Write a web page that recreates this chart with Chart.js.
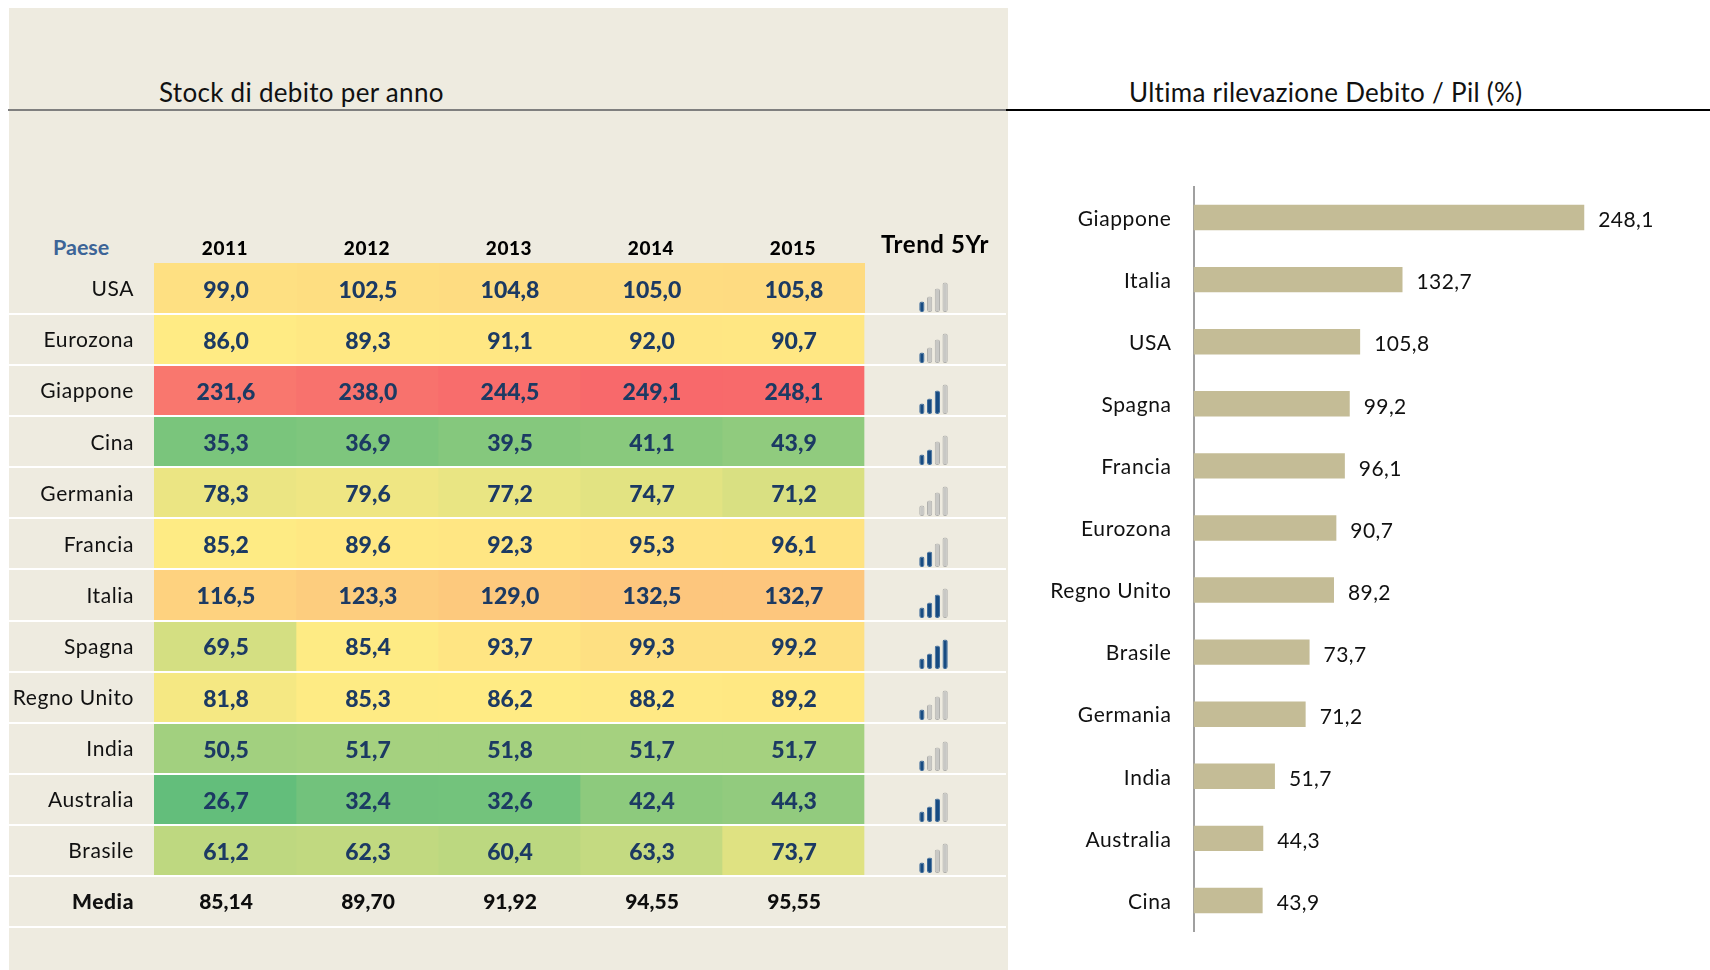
<!DOCTYPE html>
<html lang="it">
<head>
  <meta charset="UTF-8" />
  <title>Debito / Pil</title>
  <script src="https://cdn.jsdelivr.net/npm/chart.js"></script>
  <style>
    html, body { margin: 0; background: #fff; overflow: hidden; }
    body { width: 1710px; height: 970px; position: relative; font-family: Lato, sans-serif; }
    #panel { position: absolute; left: 9px; top: 8px; width: 999px; height: 962px; background: #eeebe0; }
    canvas { position: absolute; }
    #lineLeft { position: absolute; left: 8px; top: 109px; width: 1000px; height: 2px; background: #7f7f7f; }
    #lineRight { position: absolute; left: 1006px; top: 109px; width: 704px; height: 2px; background: #000; }
    .title { position: absolute; top: 76px; font-size: 26px; line-height: 32px; color: #111; white-space: nowrap; letter-spacing: 0.3px; }
    #paese { position: absolute; left: 53px; top: 234px; font-size: 21.5px; line-height: 26px; font-weight: bold; color: #3c6497; }
  </style>
</head>
<body>
  <div id="panel"></div>
  <div id="lineLeft"></div>
  <div id="lineRight"></div>
  <div class="title" style="left:159px">Stock di debito per anno</div>
  <div class="title" style="left:1129px">Ultima rilevazione Debito / Pil (%)</div>
  <div id="paese">Paese</div>
  <canvas id="tableChart" width="999" height="970" style="left:9px;top:0"></canvas>
  <canvas id="barChart" width="702" height="970" style="left:1008px;top:0"></canvas>

  <script>
    const countries = ["USA", "Eurozona", "Giappone", "Cina", "Germania", "Francia", "Italia", "Spagna", "Regno Unito", "India", "Australia", "Brasile"];
    const columnLabels = ["2011", "2012", "2013", "2014", "2015", "Trend 5Yr"];

    const stock2011 = [99.0, 86.0, 231.6, 35.3, 78.3, 85.2, 116.5, 69.5, 81.8, 50.5, 26.7, 61.2];
    const stock2012 = [102.5, 89.3, 238.0, 36.9, 79.6, 89.6, 123.3, 85.4, 85.3, 51.7, 32.4, 62.3];
    const stock2013 = [104.8, 91.1, 244.5, 39.5, 77.2, 92.3, 129.0, 93.7, 86.2, 51.8, 32.6, 60.4];
    const stock2014 = [105.0, 92.0, 249.1, 41.1, 74.7, 95.3, 132.5, 99.3, 88.2, 51.7, 42.4, 63.3];
    const stock2015 = [105.8, 90.7, 248.1, 43.9, 71.2, 96.1, 132.7, 99.2, 89.2, 51.7, 44.3, 73.7];
    const mediaValues = [85.14, 89.70, 91.92, 94.55, 95.55];

    // how many of the 4 trend bars are lit, per country
    const trendLevels = [1, 1, 3, 2, 0, 2, 3, 4, 1, 1, 3, 2];
    const trendBarHeights = [10.5, 15.5, 23.5, 29.5];

    const rankedCountries = ["Giappone", "Italia", "USA", "Spagna", "Francia", "Eurozona", "Regno Unito", "Brasile", "Germania", "India", "Australia", "Cina"];
    const rankedValues = [248.1, 132.7, 105.8, 99.2, 96.1, 90.7, 89.2, 73.7, 71.2, 51.7, 44.3, 43.9];

    const stockColumns = [stock2011, stock2012, stock2013, stock2014, stock2015];
    const tableRows = countries.concat(["Media"]);

    Chart.defaults.font.family = "Lato, sans-serif";
    Chart.defaults.animation = false;
    Chart.defaults.responsive = false;
    Chart.defaults.plugins.legend.display = false;
    Chart.defaults.plugins.tooltip.enabled = false;

    // same 3 colour scale as the spreadsheet: min green, median yellow, max red
    const allValues = stockColumns.flat().sort((a, b) => a - b);
    const minValue = allValues[0];
    const maxValue = allValues[allValues.length - 1];
    const midValue = (allValues[29] + allValues[30]) / 2;
    const green = [99, 190, 123], yellow = [255, 235, 132], red = [248, 105, 107];

    function mix(a, b, t) {
      return `rgb(${a.map((c, i) => Math.round(c + (b[i] - c) * t)).join(",")})`;
    }
    function heatColor(v) {
      if (v <= midValue) return mix(green, yellow, (v - minValue) / (midValue - minValue));
      return mix(yellow, red, (v - midValue) / (maxValue - midValue));
    }
    function comma(v, digits) {
      return v.toFixed(digits).replace(".", ",");
    }

    // the original text is a bit more open than Lato
    const spacedText = {
      id: "spacedText",
      beforeDraw(chart) { chart.ctx.letterSpacing = "0.6px"; }
    };

    const cellText = {
      id: "cellText",
      afterDatasetsDraw(chart) {
        const ctx = chart.ctx;
        ctx.save();
        ctx.letterSpacing = "0px";
        ctx.textAlign = "center";
        ctx.textBaseline = "middle";
        chart.data.datasets.forEach((ds, d) => {
          chart.getDatasetMeta(d).data.forEach((bar, i) => {
            const isMedia = i === countries.length;
            ctx.font = `900 ${isMedia ? 21 : 23}px Lato, sans-serif`;
            ctx.fillStyle = isMedia ? "#0d0d0d" : "#1c3a63";
            const text = isMedia ? comma(mediaValues[d], 2) : comma(stockColumns[d][i], 1);
            ctx.fillText(text, (bar.x + bar.base) / 2 + 1, bar.y + (isMedia ? 1 : 2));
          });
        });
        ctx.restore();
      }
    };

    new Chart(document.getElementById("tableChart"), {
      type: "bar",
      data: {
        labels: tableRows,
        datasets: stockColumns.map((values, col) => ({
          label: columnLabels[col],
          data: tableRows.map(() => [col, col + 1]),
          backgroundColor: values.map(heatColor).concat(["rgba(0,0,0,0)"]),
          inflateAmount: c => c.dataIndex === 0 ? 1 : 0.33,
          barPercentage: 1,
          categoryPercentage: 1,
          grouped: false
        }))
      },
      options: {
        indexAxis: "y",
        layout: { padding: { right: 2, bottom: 43 } },
        scales: {
          x: { type: "linear", min: 0, max: 6, display: false },
          x2: {
            type: "category",
            labels: columnLabels,
            position: "top",
            offset: true,
            grid: { display: false },
            border: { display: false },
            afterFit(s) { s.height = 263; },
            ticks: {
              autoSkip: false,
              maxRotation: 0,
              padding: -5,
              color: "#000",
              font: c => c.index === 5 ? { size: 24, weight: "bold" } : { size: 19, weight: 900 }
            }
          },
          y: {
            type: "category",
            offset: true,
            afterFit(s) { s.width = 145; },
            border: { display: false },
            grid: {
              offset: true,
              z: 1,
              lineWidth: 2,
              tickLength: 145,
              color: c => c.index === 0 ? "rgba(0,0,0,0)" : "#fff"
            },
            ticks: {
              autoSkip: false,
              padding: -125,
              labelOffset: 1,
              color: "#111",
              font: c => c.index === countries.length ? { size: 21, weight: 900 } : { size: 21 }
            }
          }
        }
      },
      plugins: [spacedText, cellText]
    });

    // the small signal icons of the Trend column, one little chart per row
    countries.forEach((name, row) => {
      const canvas = document.createElement("canvas");
      canvas.width = 31;
      canvas.height = 30;
      canvas.style.left = "918px";
      canvas.style.top = (263 + 51 * row + 51 - 2.3 - 30) + "px";
      document.body.appendChild(canvas);
      const lit = trendBarHeights.map((h, i) => i < trendLevels[row]);
      new Chart(canvas, {
        type: "bar",
        data: {
          labels: ["a", "b", "c", "d"],
          datasets: [{
            label: name,
            data: trendBarHeights,
            backgroundColor: lit.map(on => on ? "#174b82" : "#c8c8c5"),
            borderColor: lit.map(on => on ? "#3f6c9b" : "#b0b0ad"),
            borderWidth: 1,
            borderRadius: 2,
            borderSkipped: false,
            barPercentage: 0.68,
            categoryPercentage: 1
          }]
        },
        options: {
          scales: {
            x: { display: false },
            y: { display: false, min: 0, max: 30 }
          }
        }
      });
    });

    const barText = {
      id: "barText",
      afterDatasetsDraw(chart) {
        const ctx = chart.ctx;
        ctx.save();
        ctx.letterSpacing = "0.4px";
        ctx.font = "21px Lato, sans-serif";
        ctx.fillStyle = "#111";
        ctx.textBaseline = "middle";
        chart.getDatasetMeta(0).data.forEach((bar, i) => {
          ctx.fillText(comma(rankedValues[i], 1), bar.x + 14, bar.y + 3);
        });
        ctx.restore();
      }
    };

    new Chart(document.getElementById("barChart"), {
      type: "bar",
      data: {
        labels: rankedCountries,
        datasets: [{
          label: "Debito / Pil",
          data: rankedValues,
          backgroundColor: "#c4bc96",
          barPercentage: 0.41,
          categoryPercentage: 1
        }]
      },
      options: {
        indexAxis: "y",
        layout: { padding: { top: 186.5, bottom: 38.5, right: 12.5 } },
        scales: {
          x: { type: "linear", min: 0, max: 320, display: false },
          y: {
            afterFit(s) { s.width = 185.5; },
            grid: { display: false },
            border: { color: "#a0a0a0", width: 2 },
            ticks: { autoSkip: false, padding: 14, labelOffset: 1.5, color: "#111", font: { size: 21 } }
          }
        }
      },
      plugins: [spacedText, barText]
    });
  </script>
</body>
</html>
